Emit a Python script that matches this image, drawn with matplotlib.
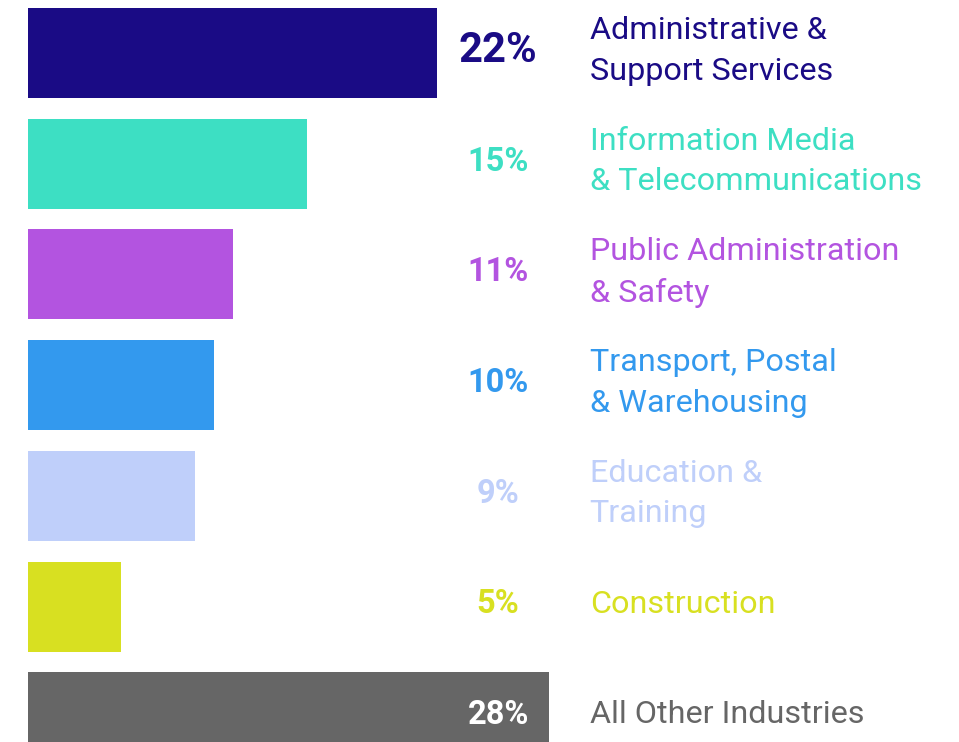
import matplotlib
matplotlib.use("Agg")
import matplotlib.pyplot as plt

categories = [
    "Administrative &\nSupport Services",
    "Information Media\n& Telecommunications",
    "Public Administration\n& Safety",
    "Transport, Postal\n& Warehousing",
    "Education &\nTraining",
    "Construction",
    "All Other Industries",
]
shares = [22, 15, 11, 10, 9, 5, 28]
colors = ["#1a0b85", "#3ddfc3", "#b354e0", "#3399ee", "#bfcffa", "#d8e021", "#666666"]
label_colors = colors[:-1] + ["#666666"]

W, H = 959, 742
fig = plt.figure(figsize=(W / 100, H / 100), dpi=100)
# axes start at the bars' left edge; x in percent units
ax = fig.add_axes([28 / W, 0, 1 - 28 / W, 1])
px_per_pct = 18.6
ax.set_xlim(0, (W - 28) / px_per_pct)
ax.set_ylim(6.224, -0.479)
ax.axis("off")

ypos = list(range(len(shares)))
ax.barh(ypos, shares, height=0.813, color=colors)

font = "Roboto"
for i, (v, cat) in enumerate(zip(shares, categories)):
    yp = i - 0.02
    if i == len(shares) - 1:
        ax.text(v - 1.05, yp, f"{v}%", ha="right", va="center", color="white",
                fontsize=23.5, fontweight="bold", family=font)
    elif i == 0:
        ax.text(25.25, yp, f"{v}%", ha="center", va="center", color=colors[i],
                fontsize=30, fontweight="bold", family=font)
    else:
        ax.text(25.25, yp, f"{v}%", ha="center", va="center", color=colors[i],
                fontsize=23.5, fontweight="bold", family=font)
    ax.text(30.2, i - 0.02, cat, ha="left", va="center", color=label_colors[i],
            fontsize=23.3, family=font, linespacing=1.5)

fig.savefig("out.png", dpi=100)
